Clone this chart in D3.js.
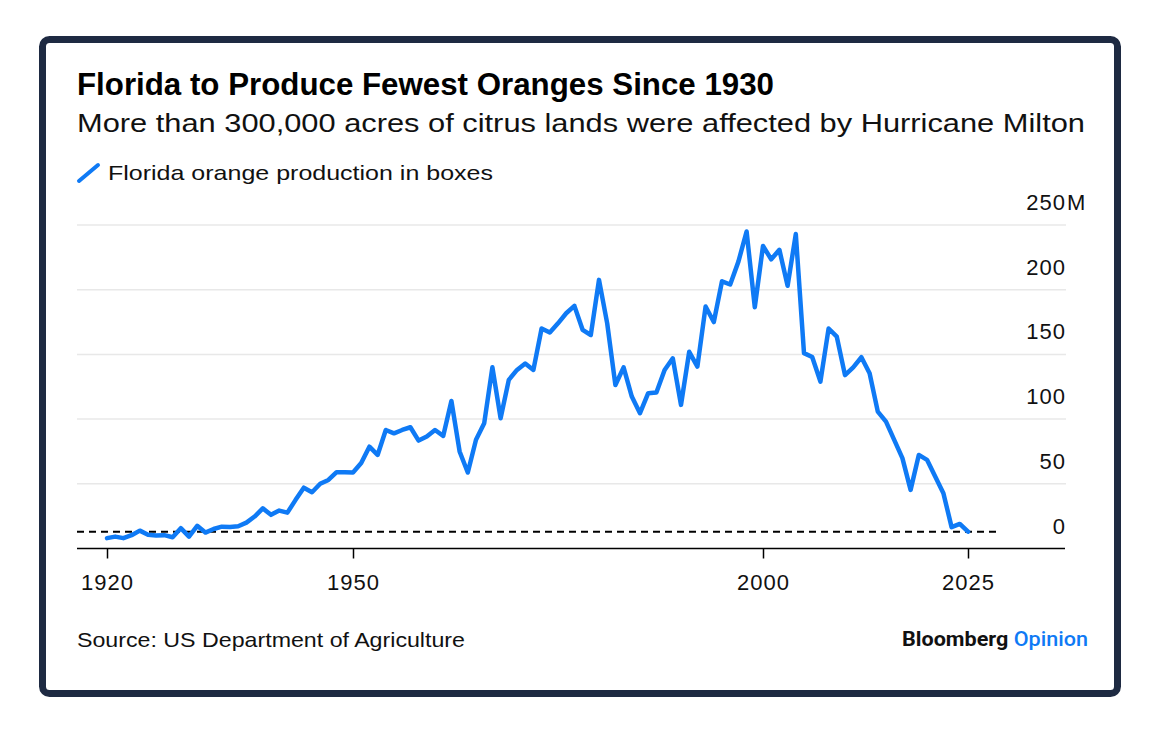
<!DOCTYPE html>
<html>
<head>
<meta charset="utf-8">
<script src="https://cdn.jsdelivr.net/npm/d3@7"></script>
<style>
  html, body { margin: 0; padding: 0; background: #ffffff; }
  svg { display: block; }
</style>
</head>
<body>
<div id="chart-container"></div>
<script>
// Florida orange production, million boxes, by season ending year
var firstYear = 1920;
var boxes = [
  8.0, 9.2, 8.0, 10.3, 13.8, 10.7, 10.0, 10.3, 8.7, 15.7,          // 1920s
  9.2, 17.5, 12.3, 15.1, 16.9, 16.6, 17.2, 20.0, 24.7, 31.0,       // 1930s
  26.0, 29.3, 27.7, 37.6, 47.0, 43.5, 50.0, 53.0, 59.0, 59.0,      // 1940s
  58.7, 66.0, 78.7, 72.3, 91.6, 89.0, 91.6, 93.7, 83.4, 86.5,      // 1950s
  91.6, 87.0, 114.0, 75.0, 58.7, 84.0, 96.8, 140.0, 100.7, 130.3,  // 1960s
  138.0, 143.0, 138.0, 170.0, 166.9, 174.0, 181.8, 187.5, 169.0, 165.0, // 1970s
  207.6, 174.0, 126.4, 140.0, 117.4, 104.6, 120.0, 120.5, 138.0, 147.0, // 1980s
  111.0, 152.0, 140.6, 187.0, 175.0, 206.5, 204.0, 221.7, 245.0, 186.5, // 1990s
  233.8, 223.5, 230.8, 203.0, 243.0, 151.0, 148.0, 129.0, 170.0, 163.7, // 2000s
  134.0, 140.0, 147.8, 135.5, 105.8, 98.0, 84.0, 69.8, 45.3, 72.3,      // 2010s
  68.5, 55.6, 42.7, 16.5, 19.0, 13.0                                     // 2020s
];
var years = boxes.map((d, i) => firstYear + i);
var currentLevel = [13.0]; // dashed reference at the latest season
var xTicks = [1920, 1950, 2000, 2025];
var yTicks = [0, 50, 100, 150, 200, 250];

var titleText = "Florida to Produce Fewest Oranges Since 1930";
var subtitleText = "More than 300,000 acres of citrus lands were affected by Hurricane Milton";
var legendText = "Florida orange production in boxes";
var sourceText = "Source: US Department of Agriculture";

var W = 1164, H = 734;
var font = "'Liberation Sans', Arial, Helvetica, sans-serif";
var blue = "#0f7af5";
var navy = "#1e2a42";

var svg = d3.select("#chart-container")
  .append("svg")
  .attr("width", W)
  .attr("height", H)
  .style("font-family", font);

// card with dark rounded border
svg.append("rect")
  .attr("x", 42.5)
  .attr("y", 39.5)
  .attr("width", 1075)
  .attr("height", 654)
  .attr("rx", 7)
  .attr("fill", "#ffffff")
  .attr("stroke", navy)
  .attr("stroke-width", 7);

// Title + subtitle
svg.append("text")
  .attr("x", 77).attr("y", 95)
  .attr("font-size", 31)
  .attr("font-weight", "bold")
  .attr("fill", "#000")
  .attr("textLength", 697)
  .attr("lengthAdjust", "spacingAndGlyphs")
  .text(titleText);

svg.append("text")
  .attr("x", 77).attr("y", 132)
  .attr("font-size", 26)
  .attr("fill", "#111")
  .attr("textLength", 1008)
  .attr("lengthAdjust", "spacingAndGlyphs")
  .text(subtitleText);

// Legend
svg.append("line")
  .attr("x1", 79).attr("y1", 181)
  .attr("x2", 98).attr("y2", 165)
  .attr("stroke", blue)
  .attr("stroke-width", 4)
  .attr("stroke-linecap", "round");

svg.append("text")
  .attr("x", 108).attr("y", 180)
  .attr("font-size", 21)
  .attr("fill", "#111")
  .attr("textLength", 385)
  .attr("lengthAdjust", "spacingAndGlyphs")
  .text(legendText);

// Scales
var x = d3.scaleLinear().domain([1920, 2025]).range([107, 968]);
var y = d3.scaleLinear().domain([0, 250]).range([548.5, 225]);
var left = 77, right = 1066;

// Gridlines
svg.append("g")
  .selectAll("line")
  .data(yTicks.filter(d => d > 0))
  .enter()
  .append("line")
  .attr("x1", left).attr("x2", right)
  .attr("y1", d => y(d)).attr("y2", d => y(d))
  .attr("stroke", "#e8e8e8")
  .attr("stroke-width", 1.5);

// Y labels on the right, sitting above their gridline
svg.append("g")
  .selectAll("text")
  .data(yTicks)
  .enter()
  .append("text")
  .attr("x", right)
  .attr("y", d => y(d) - 15)
  .attr("text-anchor", "end")
  .attr("font-size", 22)
  .attr("letter-spacing", 1)
  .attr("fill", "#111")
  .text(d => d);

svg.append("text")
  .attr("x", right + 1)
  .attr("y", y(250) - 15)
  .attr("font-size", 22)
  .attr("fill", "#111")
  .text("M");

// X axis
var xAxis = svg.append("g")
  .attr("transform", "translate(0," + y(0) + ")")
  .call(d3.axisBottom(x).tickValues(xTicks).tickSize(10).tickFormat(d3.format("d")));

xAxis.select(".domain").remove();
xAxis.selectAll(".tick line")
  .attr("stroke", "#000")
  .attr("stroke-width", 1.5);
xAxis.selectAll(".tick text")
  .attr("y", 41)
  .attr("dy", 0)
  .attr("font-family", font)
  .attr("font-size", 22)
  .attr("letter-spacing", 1)
  .attr("fill", "#111");

xAxis.append("line")
  .attr("x1", left).attr("x2", right - 1)
  .attr("y1", 0).attr("y2", 0)
  .attr("stroke", "#000")
  .attr("stroke-width", 1.5);

// Dashed reference line at the latest level
svg.append("g")
  .selectAll("line")
  .data(currentLevel)
  .enter()
  .append("line")
  .attr("x1", left).attr("x2", 997)
  .attr("y1", d => y(d)).attr("y2", d => y(d))
  .attr("stroke", "#000")
  .attr("stroke-width", 2)
  .attr("stroke-dasharray", "7,5");

// The production line
var line = d3.line()
  .x((d, i) => x(years[i]))
  .y(d => y(d));

svg.append("path")
  .datum(boxes)
  .attr("d", line)
  .attr("fill", "none")
  .attr("stroke", blue)
  .attr("stroke-width", 4.5)
  .attr("stroke-linejoin", "round")
  .attr("stroke-linecap", "round");

// Footer
svg.append("text")
  .attr("x", 77).attr("y", 647)
  .attr("font-size", 21)
  .attr("fill", "#111")
  .attr("textLength", 388)
  .attr("lengthAdjust", "spacingAndGlyphs")
  .text(sourceText);

var logo = svg.append("text")
  .attr("x", 902).attr("y", 646)
  .attr("font-family", "Roboto, 'Liberation Sans', sans-serif")
  .attr("font-size", 21)
  .attr("textLength", 186)
  .attr("lengthAdjust", "spacingAndGlyphs");
logo.append("tspan").attr("font-weight", "bold").attr("fill", "#111").text("Bloomberg ");
logo.append("tspan").attr("font-weight", 500).attr("fill", blue).text("Opinion");
</script>
</body>
</html>
